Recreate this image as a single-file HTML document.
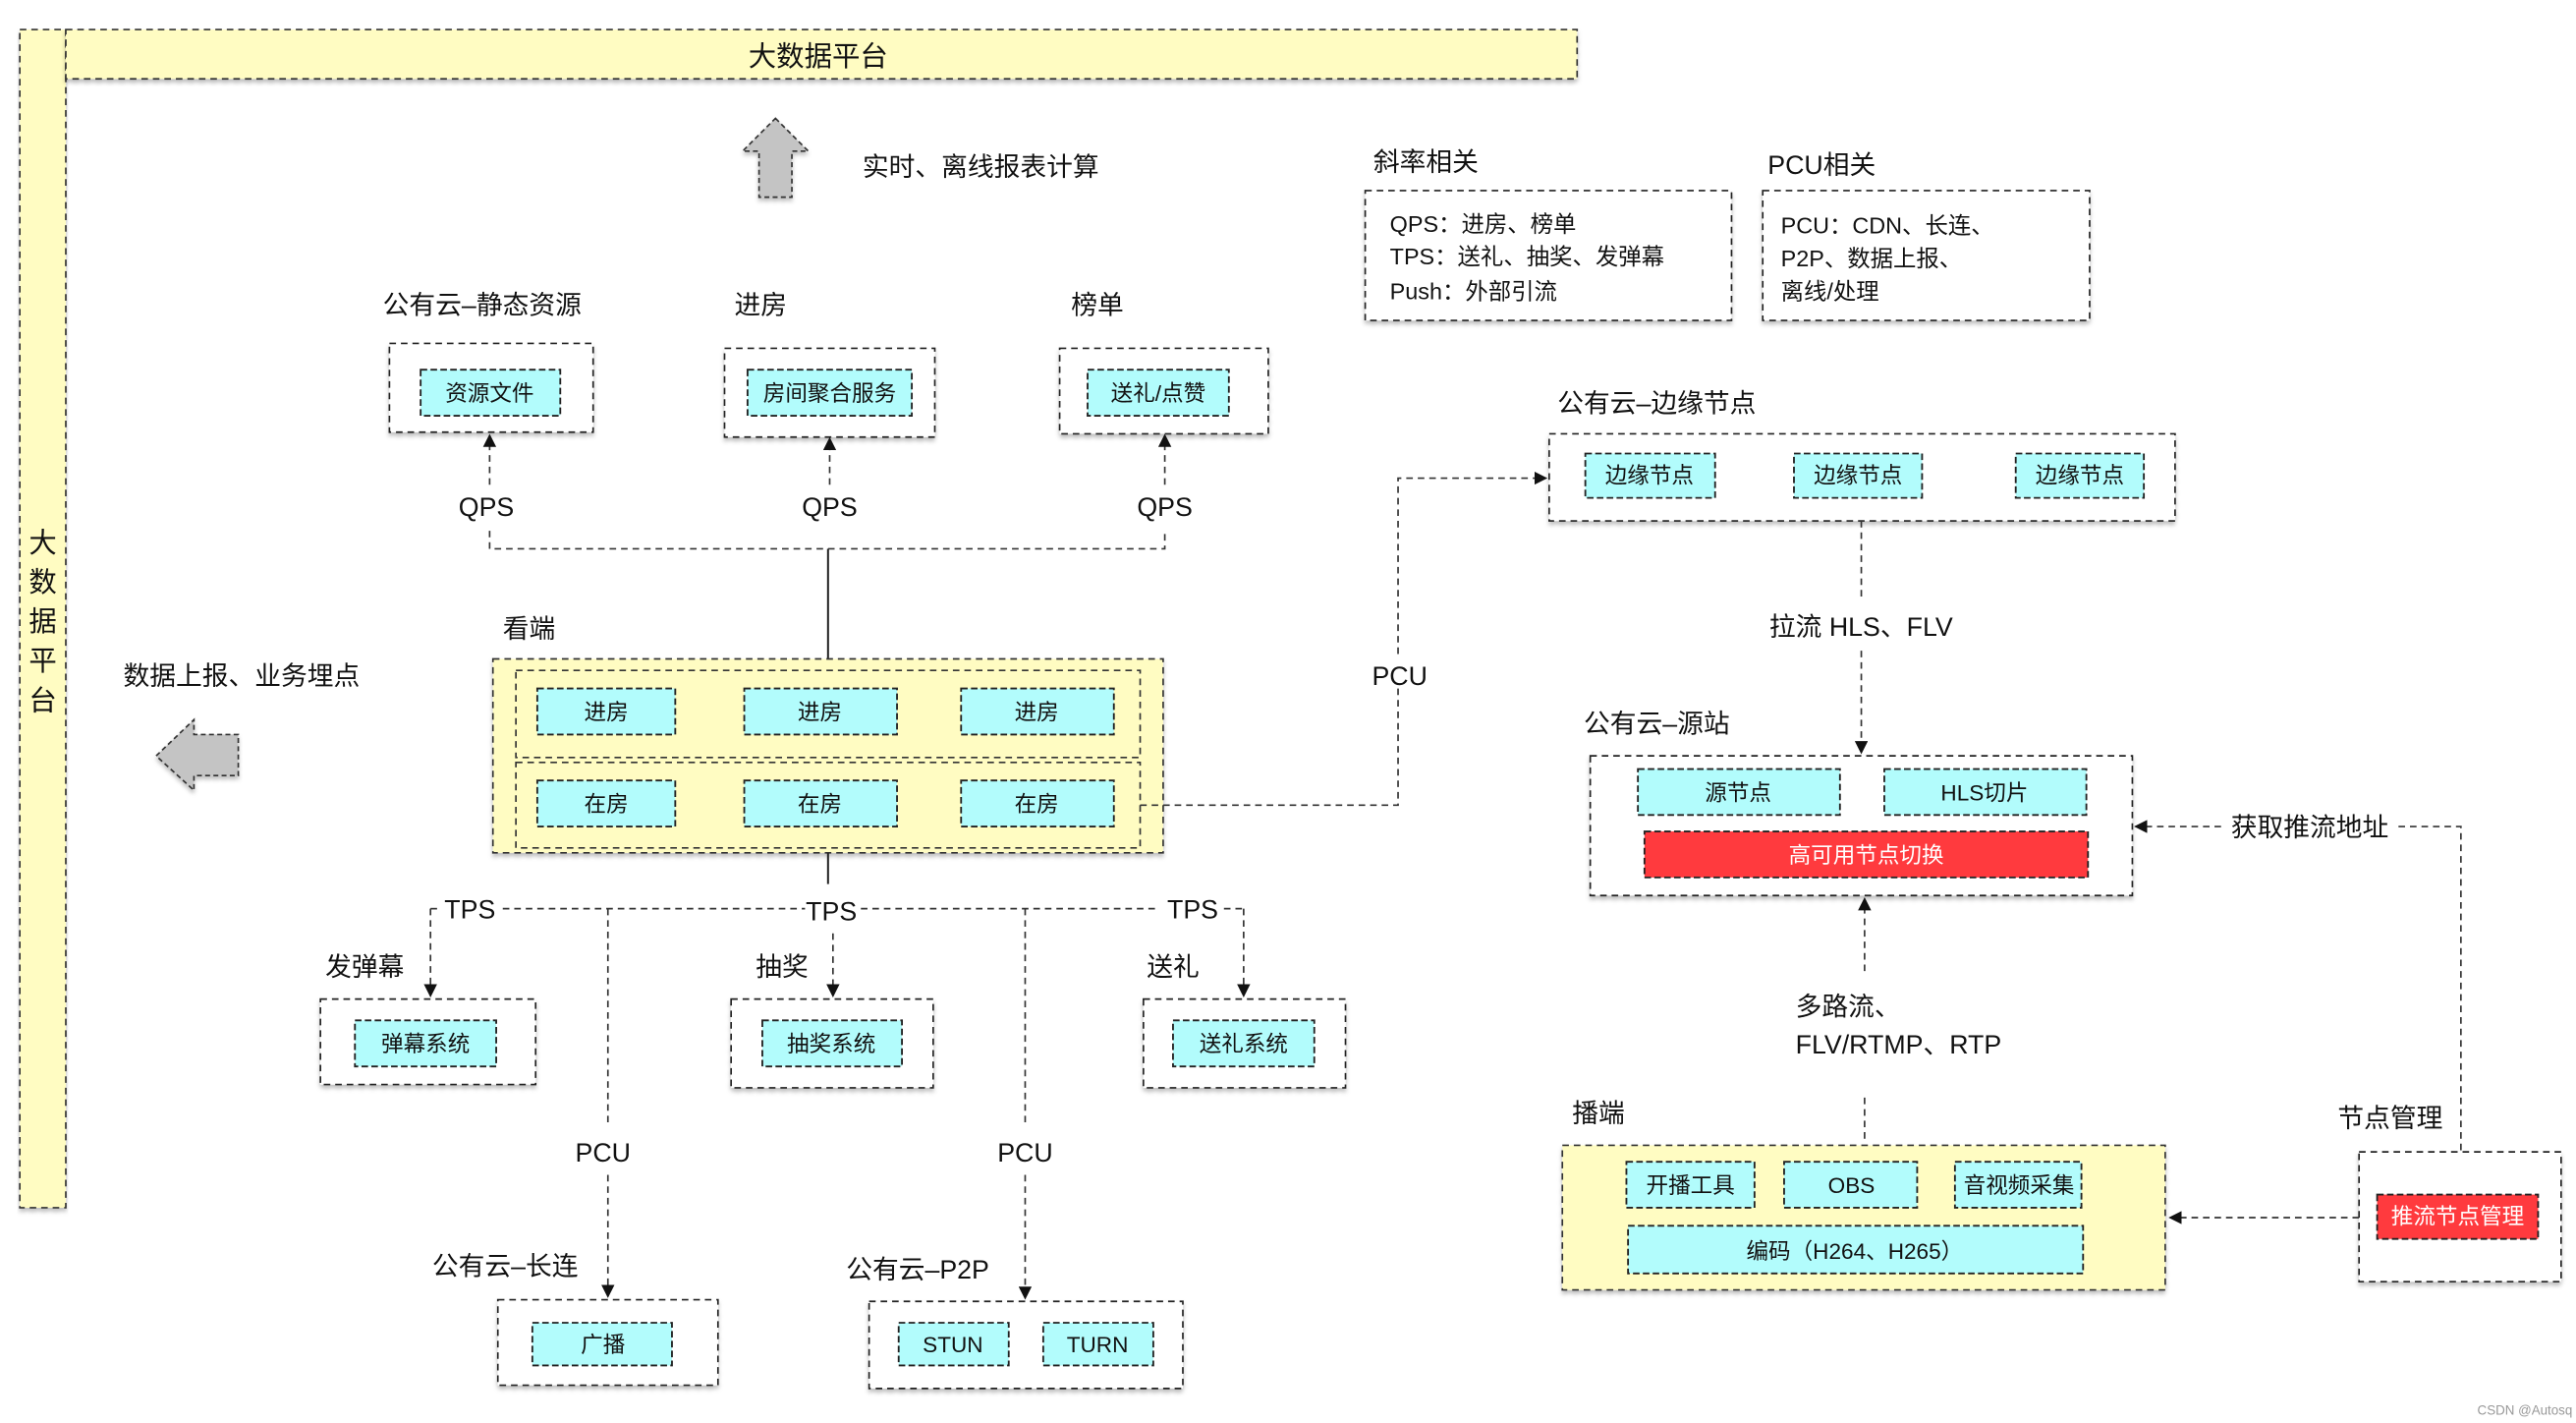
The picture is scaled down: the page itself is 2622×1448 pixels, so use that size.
<!DOCTYPE html>
<html><head><meta charset="utf-8"><style>
html,body{margin:0;padding:0;background:#fff;}
svg{display:block;}
text{font-family:"Liberation Sans","Noto Sans CJK SC",sans-serif;fill:#111;}
.b{fill:#fff;stroke:#222;stroke-width:1;stroke-dasharray:4 3;}
.y{fill:#FFFCC2;stroke:#333;stroke-width:1;stroke-dasharray:4 3;}
.c{fill:#B2FCFC;stroke:#222;stroke-width:1.1;stroke-dasharray:4 2;}
.r{fill:#FF3A3E;stroke:#222;stroke-width:1.1;stroke-dasharray:4 2;}
.d{fill:none;stroke:#333;stroke-width:1;stroke-dasharray:4 3;}
.s{fill:none;stroke:#222;stroke-width:1.2;}
.l{font-size:16px;}
.t{font-size:13.5px;text-anchor:middle;}
</style></head><body>
<svg width="2622" height="1448" viewBox="0 0 1568 866" xmlns="http://www.w3.org/2000/svg">
<defs>
<marker id="a" markerWidth="8" markerHeight="8" refX="7" refY="4" orient="auto" markerUnits="userSpaceOnUse"><path d="M0,0 L8,4 L0,8 z" fill="#111"/></marker>
<filter id="sh" x="-5%" y="-5%" width="110%" height="120%"><feDropShadow dx="0" dy="2" stdDeviation="1.2" flood-color="#000" flood-opacity="0.25"/></filter>
</defs>
<rect class="y" x="12" y="18" width="28" height="717" filter="url(#sh)"/>
<rect class="y" x="40" y="18" width="920" height="30" filter="url(#sh)"/>
<text x="498" y="40" style="font-size:17px;text-anchor:middle">大数据平台</text>
<g style="font-size:17px;text-anchor:middle">
<text x="26" y="336">大</text><text x="26" y="360">数</text><text x="26" y="384">据</text><text x="26" y="408">平</text><text x="26" y="432">台</text></g>
<path d="M472,72 L492,92 L482,92 L482,120 L462,120 L462,92 L452,92 Z" fill="#C4C4C4" stroke="#333" stroke-dasharray="3 2" filter="url(#sh)"/>
<text class="l" x="525" y="107">实时、离线报表计算</text>
<path d="M95,460 L118,438 L118,447 L145,447 L145,472 L118,472 L118,481 Z" fill="#C4C4C4" stroke="#333" stroke-dasharray="3 2" filter="url(#sh)"/>
<text class="l" x="75" y="417">数据上报、业务埋点</text>
<text class="l" x="233" y="191">公有云–静态资源</text>
<text class="l" x="447" y="191">进房</text>
<text class="l" x="652" y="191">榜单</text>
<rect class="b" x="237" y="209" width="124" height="54" filter="url(#sh)"/>
<rect class="c" x="256" y="225" width="85" height="28"/><text class="t" x="298" y="244">资源文件</text>
<rect class="b" x="441" y="212" width="128" height="54" filter="url(#sh)"/>
<rect class="c" x="455" y="225" width="100" height="28"/><text class="t" x="505" y="244">房间聚合服务</text>
<rect class="b" x="645" y="212" width="127" height="52" filter="url(#sh)"/>
<rect class="c" x="662" y="225" width="86" height="28"/><text class="t" x="705" y="244">送礼/点赞</text>
<text class="l" x="296" y="314" text-anchor="middle">QPS</text>
<text class="l" x="505" y="314" text-anchor="middle">QPS</text>
<text class="l" x="709" y="314" text-anchor="middle">QPS</text>
<path class="d" d="M298,295 V265" marker-end="url(#a)"/>
<path class="d" d="M505,295 V267" marker-end="url(#a)"/>
<path class="d" d="M709,295 V265" marker-end="url(#a)"/>
<path class="d" d="M298,323 V334 H709 V323"/>
<path class="s" d="M504,334 V408"/>
<text class="l" x="306" y="388">看端</text>
<rect class="y" x="300" y="401" width="408" height="118" filter="url(#sh)"/>
<rect class="y" x="314" y="408" width="380" height="53"/>
<rect class="y" x="314" y="464" width="380" height="52"/>
<rect class="c" x="327" y="419" width="84" height="28"/><text class="t" x="369" y="438">进房</text>
<rect class="c" x="453" y="419" width="93" height="28"/><text class="t" x="499" y="438">进房</text>
<rect class="c" x="585" y="419" width="93" height="28"/><text class="t" x="631" y="438">进房</text>
<rect class="c" x="327" y="475" width="84" height="28"/><text class="t" x="369" y="494">在房</text>
<rect class="c" x="453" y="475" width="93" height="28"/><text class="t" x="499" y="494">在房</text>
<rect class="c" x="585" y="475" width="93" height="28"/><text class="t" x="631" y="494">在房</text>
<path class="d" d="M694,490 H851 V418"/>
<path class="d" d="M851,398 V291 H941" marker-end="url(#a)"/>
<text class="l" x="852" y="417" text-anchor="middle">PCU</text>
<path class="s" d="M504,519 V538"/>
<path class="d" d="M262,553 H267"/><path class="d" d="M306,553 H490"/><path class="d" d="M524,553 H706"/><path class="d" d="M745,553 H757"/>
<text class="l" x="286" y="559" text-anchor="middle">TPS</text>
<text class="l" x="506" y="560" text-anchor="middle">TPS</text>
<text class="l" x="726" y="559" text-anchor="middle">TPS</text>
<path class="d" d="M262,553 V606" marker-end="url(#a)"/>
<path class="d" d="M507,568 V606" marker-end="url(#a)"/>
<path class="d" d="M757,553 V606" marker-end="url(#a)"/>
<text class="l" x="198" y="594">发弹幕</text>
<text class="l" x="460" y="594">抽奖</text>
<text class="l" x="698" y="594">送礼</text>
<rect class="b" x="195" y="608" width="131" height="52" filter="url(#sh)"/>
<rect class="c" x="216" y="621" width="86" height="28"/><text class="t" x="259" y="640">弹幕系统</text>
<rect class="b" x="445" y="608" width="123" height="54" filter="url(#sh)"/>
<rect class="c" x="464" y="621" width="85" height="28"/><text class="t" x="506" y="640">抽奖系统</text>
<rect class="b" x="696" y="608" width="123" height="54" filter="url(#sh)"/>
<rect class="c" x="714" y="621" width="86" height="28"/><text class="t" x="757" y="640">送礼系统</text>
<path class="d" d="M370,553 V686"/><path class="d" d="M370,715 V789" marker-end="url(#a)"/>
<path class="d" d="M624,553 V686"/><path class="d" d="M624,715 V790" marker-end="url(#a)"/>
<text class="l" x="367" y="707" text-anchor="middle">PCU</text>
<text class="l" x="624" y="707" text-anchor="middle">PCU</text>
<text class="l" x="263" y="776">公有云–长连</text>
<text class="l" x="515" y="778">公有云–P2P</text>
<rect class="b" x="303" y="791" width="134" height="52" filter="url(#sh)"/>
<rect class="c" x="324" y="805" width="85" height="26"/><text class="t" x="367" y="823">广播</text>
<rect class="b" x="529" y="792" width="191" height="53" filter="url(#sh)"/>
<rect class="c" x="547" y="805" width="67" height="26"/><text class="t" x="580" y="823">STUN</text>
<rect class="c" x="635" y="805" width="67" height="26"/><text class="t" x="668" y="823">TURN</text>
<text class="l" x="836" y="104">斜率相关</text>
<text class="l" x="1076" y="106">PCU相关</text>
<rect class="b" x="831" y="116" width="223" height="79" filter="url(#sh)"/>
<rect class="b" x="1073" y="116" width="199" height="79" filter="url(#sh)"/>
<g style="font-size:14px">
<text x="846" y="141">QPS：进房、榜单</text>
<text x="846" y="161">TPS：送礼、抽奖、发弹幕</text>
<text x="846" y="182">Push：外部引流</text>
<text x="1084" y="142">PCU：CDN、长连、</text>
<text x="1084" y="162">P2P、数据上报、</text>
<text x="1084" y="182">离线/处理</text></g>
<text class="l" x="948" y="251">公有云–边缘节点</text>
<rect class="b" x="943" y="264" width="381" height="53" filter="url(#sh)"/>
<rect class="c" x="965" y="276" width="79" height="27"/><text class="t" x="1004" y="294">边缘节点</text>
<rect class="c" x="1092" y="276" width="78" height="27"/><text class="t" x="1131" y="294">边缘节点</text>
<rect class="c" x="1227" y="276" width="78" height="27"/><text class="t" x="1266" y="294">边缘节点</text>
<path class="d" d="M1133,317 V366"/><path class="d" d="M1133,396 V458" marker-end="url(#a)"/>
<text class="l" x="1077" y="387">拉流 HLS、FLV</text>
<text class="l" x="964" y="446">公有云–源站</text>
<rect class="b" x="968" y="460" width="330" height="85" filter="url(#sh)"/>
<rect class="c" x="997" y="468" width="123" height="28"/><text class="t" x="1058" y="487">源节点</text>
<rect class="c" x="1147" y="468" width="123" height="28"/><text class="t" x="1208" y="487">HLS切片</text>
<rect class="r" x="1001" y="506" width="270" height="28"/><text class="t" x="1136" y="525" style="fill:#fff">高可用节点切换</text>
<path class="d" d="M1135,591 V547" marker-end="url(#a)"/>
<path class="d" d="M1135,668 V695"/>
<text class="l" x="1093" y="618">多路流、</text>
<text class="l" x="1093" y="641">FLV/RTMP、RTP</text>
<text class="l" x="957" y="683">播端</text>
<rect class="y" x="951" y="697" width="367" height="88" filter="url(#sh)"/>
<rect class="c" x="990" y="707" width="78" height="28"/><text class="t" x="1029" y="726">开播工具</text>
<rect class="c" x="1086" y="707" width="81" height="28"/><text class="t" x="1127" y="726">OBS</text>
<rect class="c" x="1190" y="707" width="77" height="28"/><text class="t" x="1229" y="726">音视频采集</text>
<rect class="c" x="991" y="746" width="277" height="29"/><text class="t" x="1129" y="766">编码（H264、H265）</text>
<text class="l" x="1423" y="686">节点管理</text>
<rect class="b" x="1436" y="701" width="123" height="79" filter="url(#sh)"/>
<rect class="r" x="1447" y="727" width="98" height="27"/><text class="t" x="1496" y="745" style="fill:#fff">推流节点管理</text>
<path class="d" d="M1436,741 H1321" marker-end="url(#a)"/>
<path class="d" d="M1498,700 V503 H1458"/>
<path class="d" d="M1352,503 H1300" marker-end="url(#a)"/>
<text class="l" x="1358" y="509">获取推流地址</text>
<text x="1508" y="861" style="font-size:8px;fill:#999">CSDN @Autosq</text>
</svg>
</body></html>
